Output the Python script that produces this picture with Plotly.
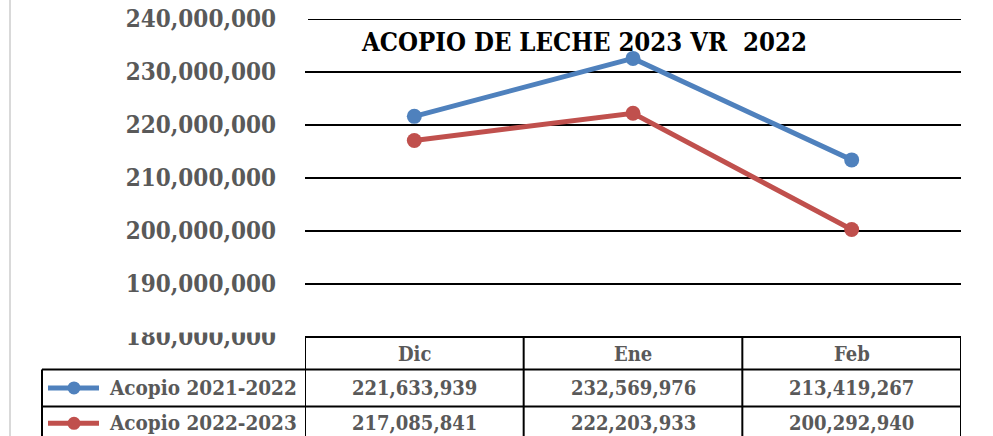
import plotly.graph_objects as go

categories = ["Dic", "Ene", "Feb"]
series_names = ["Acopio 2021-2022", "Acopio 2022-2023"]
acopio_2021_2022 = [221633939, 232569976, 213419267]
acopio_2022_2023 = [217085841, 222203933, 200292940]
series_values = [acopio_2021_2022, acopio_2022_2023]
colors = ["#4F81BD", "#C0504D"]
title_text = "<b>ACOPIO DE LECHE 2023 VR  2022</b>"
y_min, y_max, y_step = 180000000, 240000000, 10000000

W, H = 993, 436
L, R, T, B = 305, 32, 19, 98.5
pw, ph = W - L - R, H - T - B

def px(x):
    return (x - L) / pw

def py(y):
    return (H - B - y) / ph

FONT = "DejaVu Serif Condensed, DejaVu Serif, serif"
GRAY = "#595959"

fig = go.Figure()
xs = list(range(len(categories)))
for name, vals, c in zip(series_names, series_values, colors):
    fig.add_trace(go.Scatter(
        x=xs, y=vals, name=name, mode="lines+markers",
        line=dict(color=c, width=5),
        marker=dict(color=c, size=15),
        showlegend=False, hoverinfo="skip",
    ))

shapes = []
annotations = []
lw = 2
col_edges = [-0.5, 0.5, 1.5, 2.5]
y_top, y_r1, y_r2, y_bot = py(337.5), py(370), py(407), py(450)
# top gridline (edge gridline not drawn by plotly)
shapes.append(dict(type="line", xref="paper", yref="y", x0=px(308), x1=1, y0=y_max, y1=y_max,
                   line=dict(color="black", width=lw)))
# white cover clipping the top of the lowest tick label
shapes.append(dict(type="rect", xref="paper", yref="paper", x0=px(100), x1=px(295), y0=py(333), y1=py(318),
                   fillcolor="white", line=dict(width=0), layer="above"))
shapes.append(dict(type="line", xref="x", yref="paper", x0=-0.5, x1=2.5, y0=y_top, y1=y_top,
                   line=dict(color="black", width=lw)))
for yy in (y_r1, y_r2):
    shapes.append(dict(type="line", xref="paper", yref="paper", x0=px(42), x1=1, y0=yy, y1=yy,
                       line=dict(color="black", width=lw)))
for ce in col_edges:
    shapes.append(dict(type="line", xref="x", yref="paper", x0=ce, x1=ce, y0=y_top, y1=y_bot,
                       line=dict(color="black", width=lw)))
shapes.append(dict(type="line", xref="paper", yref="paper", x0=px(42), x1=px(42), y0=y_r1, y1=y_bot,
                   line=dict(color="black", width=lw)))
shapes.append(dict(type="line", xref="paper", yref="paper", x0=px(10), x1=px(10), y0=py(0), y1=py(440),
                   line=dict(color="#d9d9d9", width=2)))

for i, cat in enumerate(categories):
    annotations.append(dict(x=i, xref="x", y=py(355), yref="paper", text=f"<b>{cat}</b>", showarrow=False,
                            font=dict(family=FONT, size=20, color=GRAY), xanchor="center", yanchor="middle"))
row_y = [py(388.5), py(424)]
for name, vals, c, ry in zip(series_names, series_values, colors, row_y):
    shapes.append(dict(type="line", xref="paper", yref="paper", x0=px(48), x1=px(99), y0=ry, y1=ry,
                       line=dict(color=c, width=5)))
    shapes.append(dict(type="circle", xref="paper", yref="paper", xsizemode="pixel", ysizemode="pixel",
                       xanchor=px(74), yanchor=ry, x0=-6.5, x1=6.5, y0=-6.5, y1=6.5,
                       fillcolor=c, line=dict(color=c, width=0)))
    annotations.append(dict(x=px(107), xref="paper", y=ry, yref="paper", text=f"<b>{name}</b>", showarrow=False,
                            font=dict(family=FONT, size=20.5, color=GRAY), xanchor="left", yanchor="middle"))
    for i, v in enumerate(vals):
        annotations.append(dict(x=i, xref="x", y=ry, yref="paper", text=f"<b>{v:,}</b>", showarrow=False,
                                font=dict(family=FONT, size=20, color=GRAY), xanchor="center", yanchor="middle"))

annotations.append(dict(x=px(583.5), xref="paper", y=py(42), yref="paper", text=title_text, showarrow=False,
                        font=dict(family=FONT, size=25.5, color="black"), xanchor="center", yanchor="middle"))

fig.update_layout(
    width=W, height=H,
    margin=dict(l=L, r=R, t=T, b=B, autoexpand=False),
    paper_bgcolor="white", plot_bgcolor="white",
    shapes=shapes, annotations=annotations,
    xaxis=dict(range=[-0.5, 2.5], showticklabels=False, showgrid=False, zeroline=False,
               showline=False, ticks="", automargin=False),
    yaxis=dict(range=[y_min, y_max], dtick=y_step, tickformat=",",
               showgrid=True, gridcolor="black", gridwidth=2, zeroline=False, showline=False,
               ticklabelstandoff=28, automargin=False,
               tickfont=dict(family=FONT, size=24, color=GRAY, weight="bold")),
    font=dict(family=FONT),
)
fig.write_html("out.html", config={"displayModeBar": False},
               post_script="document.body.style.margin='0';")
